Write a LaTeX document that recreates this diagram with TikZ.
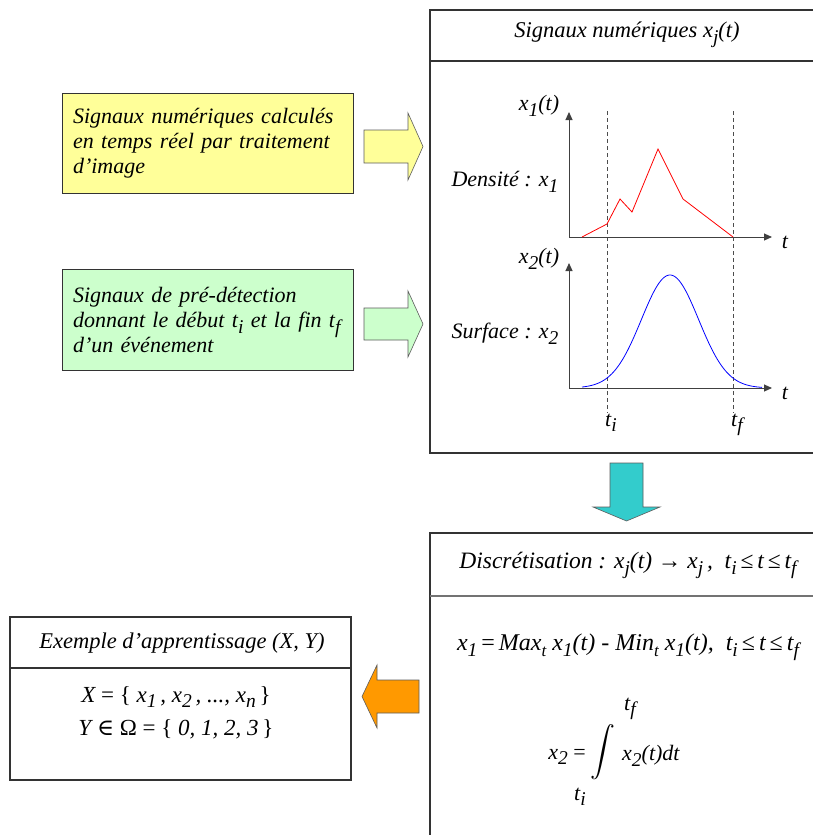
\documentclass[tikz,border=0pt]{standalone}
\usepackage{amsmath}
\usepackage{fontspec}
\setmainfont{Liberation Serif}
\newfontfamily\dvs{DejaVu Serif}
\usetikzlibrary{arrows.meta}
\definecolor{edge}{HTML}{333333}
\definecolor{yfill}{HTML}{FFFF99}
\definecolor{gfill}{HTML}{CCFFCC}
\definecolor{tfill}{HTML}{33CCCC}
\definecolor{ofill}{HTML}{FF9900}
\newcommand\sub[1]{\raisebox{-0.55ex}{\fontsize{19.5}{19.5}\selectfont #1}}
\newcommand\sma[1]{\raisebox{-0.6ex}{\fontsize{17}{17}\selectfont #1}}
\tikzset{
  boxtxt/.style={font=\fontsize{22}{25}\selectfont\itshape, inner sep=0pt},
  hdr/.style={font=\fontsize{22.5}{24}\selectfont\itshape, inner sep=0pt},
  lbl/.style={font=\fontsize{22}{25}\selectfont\itshape, inner sep=0pt},
  frame/.style={draw=edge, line width=1.1pt},
  blockarrow/.style={draw=edge!80, line width=0.6pt},
  axis/.style={draw=black!75, line width=1pt, -{Triangle[length=8pt,width=7pt]}},
  guide/.style={draw=black!70, line width=0.8pt, dashed, dash pattern=on 4pt off 3pt},
}
\begin{document}
\begin{tikzpicture}[x=1pt,y=-1pt]
\useasboundingbox (0,0) rectangle (813,835);
\clip (0,0) rectangle (813,835);
\fill[white] (0,0) rectangle (813,835);

% ---- left input boxes ----
\node[boxtxt, frame, fill=yfill, anchor=north west, minimum width=291pt, minimum height=100pt,
      text width=270pt, align=left, inner xsep=10.5pt] (ybox) at (62,93)
  {Signaux numériques calculés\\en temps réel par traitement\\d’image};
\node[boxtxt, frame, fill=gfill, anchor=north west, minimum width=291pt, minimum height=101pt,
      text width=270pt, align=left, inner xsep=10.5pt] (gbox) at (62,269)
  {Signaux de pré-détection\\donnant le début t\sub{i} et la fin t\sub{f}\\d’un événement};

% block arrows right
\filldraw[blockarrow, fill=yfill] (364,130) -- (408,130) -- (408,113) -- (423,146.5) -- (408,180) -- (408,163) -- (364,163) -- cycle;
\filldraw[blockarrow, fill=gfill] (364,308) -- (408,308) -- (408,291) -- (423,324) -- (408,357) -- (408,340) -- (364,340) -- cycle;

% ---- top right box ----
\draw[frame] (430,10) rectangle (830,453);
\draw[frame] (430,61) -- (830,61);
\node[hdr] (h1) at (627,35) {Signaux numériques x\sub{j}(t)};

% plot 1
\draw[guide] (607,111) -- (607,413);
\draw[guide] (733,111) -- (733,413);
\draw[axis] (569,237) -- (569,112);
\draw[axis] (569,237) -- (772,237);
\draw[red, line width=0.8pt] (582,237) -- (607,224) -- (620,199) -- (632,212) -- (658,149) -- (683,199) -- (733,237);
\node[lbl] (x1t) at (539,106) {x\sub{1}(t)};
\node[lbl] (dens) at (505,182) {Densité : x\sub{1}};
\node[lbl] (t1) at (785,242) {t};

% plot 2
\draw[axis] (569,388) -- (569,263);
\draw[axis] (569,388) -- (772,388);
\draw[blue, line width=0.8pt] plot[domain=582:762, samples=90, smooth] (\x, {388-113*exp(-((\x-670)^2)/1634)});
\node[lbl] (x2t) at (539,259) {x\sub{2}(t)};
\node[lbl] (surf) at (505,334) {Surface : x\sub{2}};
\node[lbl] (t2) at (785,393) {t};
\node[lbl] (ti) at (611,423) {t\sub{i}};
\node[lbl] (tf) at (737,425) {t\sub{f}};

% down arrow
\filldraw[blockarrow, fill=tfill] (610,463) -- (643,463) -- (643,507) -- (660,507) -- (626.5,521) -- (593,507) -- (610,507) -- cycle;

% ---- bottom right box ----
\draw[frame] (430,533) rectangle (830,860);
\draw[frame, draw=black!55] (430,596) -- (830,596);
\node[hdr, font=\fontsize{23.5}{25}\selectfont\itshape] (h2) at (628,565) {Discrétisation : x\sub{j}(t) {\upshape →} x\sub{j}\,,\ \ t\sub{i}{\upshape\,≤\,}t{\upshape\,≤\,}t\sub{f}};
\node[lbl, font=\fontsize{24}{25}\selectfont\itshape] (f1) at (628,647) {x\sub{1}{\upshape\,=\,}Max\sma{t} x\sub{1}(t) - Min\sma{t} x\sub{1}(t),\ \ t\sub{i}{\upshape\,≤\,}t{\upshape\,≤\,}t\sub{f}};
\node[lbl] (x2eq) at (567,757) {x\sub{2} {\upshape =}};
\node[inner sep=0pt, font=\fontsize{29}{29}\selectfont] (intg) at (603,752) {$\displaystyle\int$};
\node[lbl] (itf) at (630,709) {t\sub{f}};
\node[lbl] (iti) at (580,797) {t\sub{i}};
\node[lbl, anchor=west] (igd) at (622,756) {x\sub{2}(t)dt};

% orange arrow
\filldraw[blockarrow, fill=ofill] (419,680) -- (377,680) -- (377,665) -- (362,696.5) -- (377,728) -- (377,713) -- (419,713) -- cycle;

% ---- bottom left box ----
\draw[frame] (10,617) rectangle (351,780);
\draw[frame] (10,668) -- (351,668);
\node[hdr] (h3) at (182,643) {Exemple d’apprentissage (X, Y)};
\node[lbl, font=\fontsize{23}{25}\selectfont\itshape] (xset) at (176,697) {X {\upshape = \{} x\sub{1}\,, x\sub{2}\,, ..., x\sub{n}{\upshape\,\}}};
\node[lbl, font=\fontsize{23}{25}\selectfont\itshape] (yset) at (176,729) {Y {\upshape{\dvs ∈} Ω = \{} 0, 1, 2, 3{\upshape\,\}}};
\end{tikzpicture}
\end{document}
